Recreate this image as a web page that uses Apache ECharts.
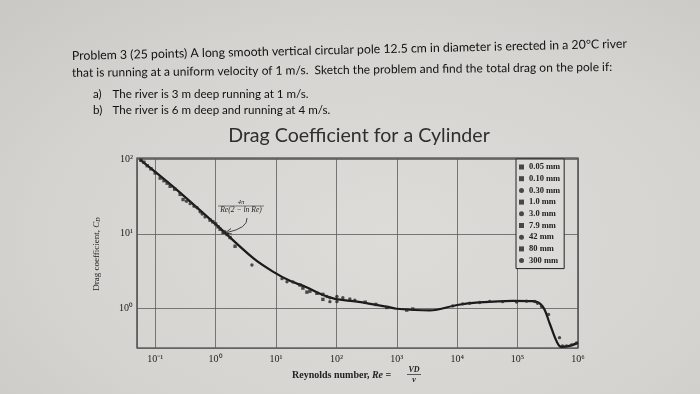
<!DOCTYPE html>
<html><head><meta charset="utf-8">
<script src="https://cdn.jsdelivr.net/npm/echarts@6/dist/echarts.min.js"></script>
<style>
html,body{margin:0;padding:0;}
body{background:radial-gradient(ellipse at 55% 60%, #dddcd8 0%, #d5d4d0 60%, #cac8c4 100%);}
#c{width:700px;height:394px;}
</style></head><body><div id="c"></div>
<script>
// ---- data ----
const legendNames = ['0.05 mm','0.10 mm','0.30 mm','1.0 mm','3.0 mm','7.9 mm','42 mm','80 mm','300 mm'];
const xTickExponents = [-1,0,1,2,3,4,5,6];
const yTickExponents = [0,1,2];

// smooth curve (Re, C_D)
const curveRe = [0.056, 0.2, 1, 4.2, 8.9, 17, 32, 60, 95, 220, 700, 1000, 3500, 10000, 23000, 83000, 180000, 260000, 340000, 440000, 530000, 720000, 1000000];
const curveCd = [100, 43, 13.5, 4.7, 3.1, 2.33, 1.91, 1.5, 1.33, 1.22, 1.04, 0.98, 0.93, 1.1, 1.19, 1.25, 1.24, 1.05, 0.62, 0.36, 0.30, 0.31, 0.34];

// measured points per wire/cylinder diameter [Re, C_D]
const dots005 = [[0.058,98],[0.065,92],[0.0738,82.7],[0.085,75],[0.1,66],[0.121,56.4]];
const dots010 = [[0.14,52],[0.158,48.1],[0.177,43.7],[0.21,40],[0.259,34],[0.29,29]];
const dots030 = [[0.33,27.5],[0.379,25.5],[0.44,23.5],[0.494,22.5],[0.554,19.8],[0.6,18.5],[0.67,16.9]];
const dots10  = [[0.81,15.3],[0.9,14.5],[1.0,13.6],[1.1,12.4],[1.19,11.5],[1.33,10.4],[1.4,10.6],[1.55,9.8],[1.74,8.9],[2.1,6.8]];
const dots30  = [[4.0,3.8],[12.6,2.49],[15.2,2.26],[19.1,2.25]];
const dots79  = [[24.9,2.05],[27.9,1.86],[32.5,1.64],[36.5,1.69],[47.6,1.58],[59.8,1.53],[59.8,1.31]];
const dots42  = [[69.7,1.43],[78.1,1.38],[78.1,1.22],[102,1.43],[102,1.22],[128,1.38],[167,1.33],[202,1.28]];
const dots80  = [[300,1.2],[450,1.12],[684,1.02],[1462,0.94],[1837,0.97]];
const dots300 = [[8430,1.07],[12340,1.14],[16100,1.16],[23600,1.19],[34500,1.23],[56500,1.22],[96200,1.21],[140900,1.24],[191000,1.23],[214000,1.16],[249000,1.05],[325000,0.82],[494000,0.40],[555000,0.31],[646000,0.31],[781000,0.32],[945000,0.34]];
const dotSets = [dots005, dots010, dots030, dots10, dots30, dots79, dots42, dots80, dots300];
const dotSymbols = ['rect','rect','circle','rect','circle','rect','circle','rect','circle'];

// ---- chart ----
const SUP = {'-':'\u207B','0':'\u2070','1':'\u00B9','2':'\u00B2','3':'\u00B3','4':'\u2074','5':'\u2075','6':'\u2076'};
function powLabel(list){
  return function(v){
    const e = Math.log10(v), r = Math.round(e);
    if (Math.abs(e - r) > 1e-6 || list.indexOf(r) < 0) return '';
    return '10' + String(r).split('').map(c => SUP[c]).join('');
  };
}
const serif = 'Liberation Serif';
const chart = echarts.init(document.getElementById('c'), null, {renderer:'canvas'});

const series = [{
  type:'line', name:'curve', data: curveRe.map((x,i)=>[x, curveCd[i]]),
  showSymbol:false, smooth:0.35, lineStyle:{color:'#1a1a1a', width:2.2}, z:3, silent:true
}];
dotSets.forEach((d,i)=>series.push({
  type:'scatter', name: legendNames[i], data: d, symbol: dotSymbols[i], symbolSize: 3.4,
  itemStyle:{color:'#262626'}, z:4
}));

const txt = (x, y, s, size, rot) => ({type:'text', x:x, y:y, rotation:rot||0,
  style:{text:s, font:size+'px Lato', fill:'#111', textVerticalAlign:'middle'}});

chart.setOption({
  animation:false,
  backgroundColor:'transparent',
  grid:{left:137, right:122, top:158, bottom:46, show:true, borderColor:'#2a2a2a', borderWidth:1.2, backgroundColor:'transparent'},
  xAxis:{type:'log', logBase:10, min:0.05, max:1000000,
    axisLine:{show:false}, axisTick:{show:false},
    splitLine:{show:true, lineStyle:{color:'#5c5c5c', width:0.8}},
    axisLabel:{interval:0, formatter: powLabel(xTickExponents), fontFamily:serif, fontSize:10, color:'#222', margin:6}
  },
  yAxis:{type:'log', logBase:10, min:0.29, max:105,
    axisLine:{show:false}, axisTick:{show:false},
    splitLine:{show:true, lineStyle:{color:'#5c5c5c', width:0.8}},
    axisLabel:{interval:0, formatter: powLabel(yTickExponents), fontFamily:serif, fontSize:10, color:'#222', margin:4}
  },
  legend:{data:legendNames, orient:'vertical', left:516, top:159, selectedMode:false,
    backgroundColor:'#dcdbd7', borderColor:'#222', borderWidth:1, padding:[3,4,3,3],
    itemGap:1.7, itemWidth:5, itemHeight:5, itemStyle:{color:'#222'},
    textStyle:{fontFamily:serif, fontSize:8.5, fontWeight:'bold', color:'#222', lineHeight:10}
  },
  series: series,
  graphic:[
    txt(72, 56, 'Problem 3 (25 points) A long smooth vertical circular pole 12.5 cm in diameter is erected in a 20\u00B0C river', 12.3, 0.022),
    txt(72, 73, 'that is running at a uniform velocity of 1 m/s.  Sketch the problem and find the total drag on the pole if:', 12, 0.011),
    txt(93, 94, 'a)', 11.6),
    txt(112.5, 94, 'The river is 3 m deep running at 1 m/s.', 11.6),
    txt(93, 110.5, 'b)', 11.6),
    txt(112.5, 110.5, 'The river is 6 m deep and running at 4 m/s.', 11.6),
    {type:'text', x:359, y:136, style:{text:'Drag Coefficient for a Cylinder', font:'19.6px Lato', fill:'#2e2e2e', textAlign:'center', textVerticalAlign:'middle'}},
    // formula annotation
    {type:'text', x:241, y:202.5, style:{text:'4\u03C0', font:'italic 6.5px "Liberation Serif"', fill:'#222', textAlign:'center', textVerticalAlign:'middle'}},
    {type:'line', shape:{x1:218, y1:206, x2:264, y2:206}, style:{stroke:'#333', lineWidth:0.6}},
    {type:'text', x:241, y:209.5, style:{text:'Re(2 \u2212 ln Re)', font:'italic 7.6px "Liberation Serif"', fill:'#222', textAlign:'center', textVerticalAlign:'middle'}},
    {type:'bezierCurve', shape:{x1:247, y1:218, cpx1:248, cpy1:228, x2:227, y2:232.5}, style:{stroke:'#333', lineWidth:0.9, fill:null}},
    {type:'polyline', shape:{points:[[231,228.5],[225,233],[232,234]]}, style:{stroke:'#333', lineWidth:0.9, fill:null}},
    // axis names
    {type:'text', x:97, y:254, rotation:Math.PI/2, style:{rich:{a:{fontFamily:serif, fontSize:9, fill:'#222'}, i:{fontFamily:serif, fontStyle:'italic', fontSize:9, fill:'#222'}, s:{fontFamily:serif, fontStyle:'italic', fontSize:6, fill:'#222', verticalAlign:'bottom'}}, text:'{a|Drag coefficient, }{i|C}{s|D}', textAlign:'center', textVerticalAlign:'middle'}},
    {type:'text', x:292, y:375, style:{rich:{a:{fontFamily:serif, fontSize:10, fontWeight:'bold', fill:'#222'}, i:{fontFamily:serif, fontStyle:'italic', fontWeight:'bold', fontSize:10, fill:'#222'}}, text:'{a|Reynolds number, }{i|Re}{a| = }', textVerticalAlign:'middle'}},
    {type:'text', x:414, y:370, style:{text:'VD', font:'italic bold 8px "Liberation Serif"', fill:'#222', textAlign:'center', textVerticalAlign:'middle'}},
    {type:'line', shape:{x1:407, y1:374.5, x2:421, y2:374.5}, style:{stroke:'#222', lineWidth:0.7}},
    {type:'text', x:414, y:379.5, style:{text:'\u03BD', font:'italic bold 8px "Liberation Serif"', fill:'#222', textAlign:'center', textVerticalAlign:'middle'}}
  ]
});
</script></body></html>
